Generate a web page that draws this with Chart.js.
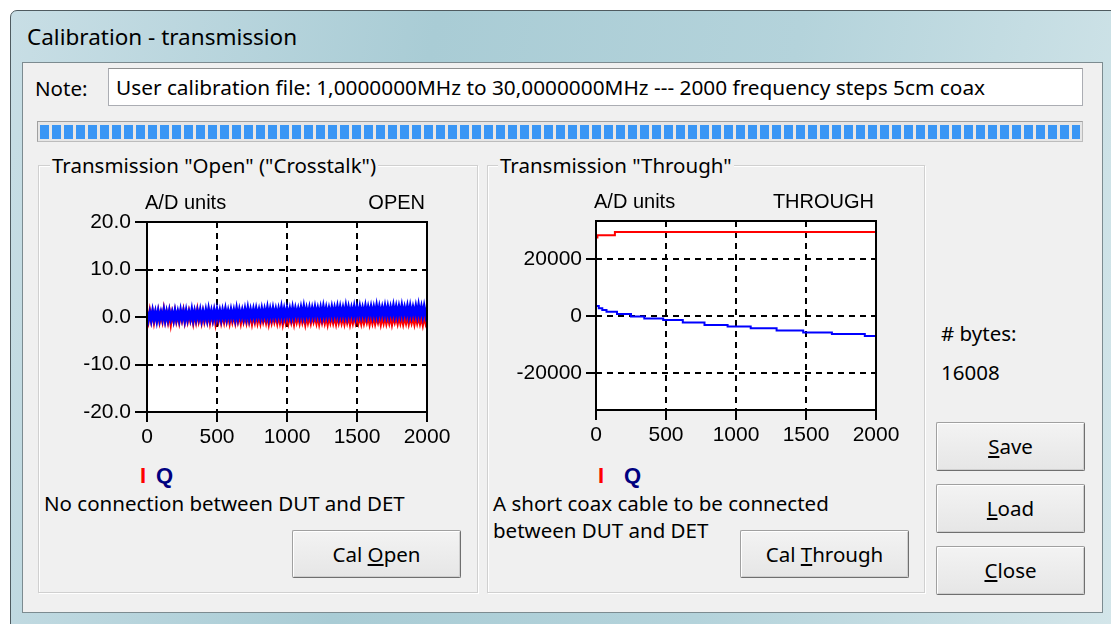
<!DOCTYPE html>
<html>
<head>
<meta charset="utf-8">
<title>Calibration - transmission</title>
<script src="https://cdn.jsdelivr.net/npm/chart.js@4.4.1/dist/chart.umd.min.js"></script>
<style>
  body { margin: 0; width: 1111px; height: 624px; overflow: hidden; background: #fff; position: relative;
         font-family: "Noto Sans", "Open Sans", sans-serif; font-size: 20.5px; color: #000; }
  .abs { position: absolute; box-sizing: border-box; }
  .t { position: absolute; white-space: nowrap; line-height: 24px; }
  #frame { left: 10px; top: 10px; width: 1110px; height: 630px; border: 1px solid #4f5b60; border-radius: 7px 7px 0 0;
           background: linear-gradient(100deg, #c8dee5 0%, #a9ccd5 35%, #b4d3db 65%, #d4e6ea 100%); }
  #client { left: 22px; top: 62px; width: 1081px; height: 551px; background: #f0f0f0; border: 1px solid #7c8b90; }
  #note { left: 108px; top: 68px; width: 975px; height: 38px; background: #fff; border: 1px solid #abadb3;
          border-top-color: #8e8f8f; padding-left: 7px; line-height: 36px; white-space: nowrap; font-size: 20.8px; }
  #prog { left: 37px; top: 121px; width: 1046px; height: 21px; background: #e6e6e6; border: 1px solid #bcbcbc;
          border-top-color: #a0a0a0; border-left-color: #a0a0a0; }
  #prog div { position: absolute; left: 2px; right: 2px; top: 3px; bottom: 2px;
              background: repeating-linear-gradient(to right, #3996f5 0 9px, transparent 9px 12px); }
  .group { border: 1px solid #d0d0d0; box-shadow: inset 1px 1px #fff, 1px 1px #fff; }
  .gtitle { background: #f0f0f0; padding: 0 2px; }
  .btn { border: 1px solid #a0a0a0; border-right-color: #6f6f6f; border-bottom-color: #6f6f6f; border-radius: 2px;
         background: linear-gradient(#f3f3f3, #e6e6e6); box-shadow: inset 1px 1px #fff, inset -1px -1px #cfcfcf;
         text-align: center; white-space: nowrap; }
  .iq { position: absolute; font-family: "Liberation Sans", Arial, sans-serif; font-weight: bold; font-size: 22px; line-height: 24px; }
  canvas { position: absolute; }
</style>
</head>
<body>
<div id="frame" class="abs"></div>
<div class="t" style="left:27px; top:25px; font-size:22.5px;">Calibration - transmission</div>
<div id="client" class="abs"></div>

<div class="t" style="left:35px; top:76px;">Note:</div>
<div id="note" class="abs">User calibration file: 1,0000000MHz to 30,0000000MHz --- 2000 frequency steps 5cm coax</div>
<div id="prog" class="abs"><div></div></div>

<div class="abs group" style="left:38px; top:165px; width:440px; height:428px;"></div>
<div class="t gtitle" style="left:50px; top:153px;">Transmission "Open" ("Crosstalk")</div>
<div class="abs group" style="left:487px; top:165px; width:438px; height:428px;"></div>
<div class="t gtitle" style="left:498px; top:153px;">Transmission "Through"</div>

<canvas id="openChart" width="400" height="275" style="left:60px; top:180px; width:400px; height:275px;"></canvas>
<canvas id="thruChart" width="400" height="275" style="left:510px; top:180px; width:400px; height:275px;"></canvas>

<span class="iq" style="left:140px; top:464px; color:#ff0000;">I</span>
<span class="iq" style="left:156px; top:464px; color:#000080;">Q</span>
<span class="iq" style="left:598px; top:464px; color:#ff0000;">I</span>
<span class="iq" style="left:624px; top:464px; color:#000080;">Q</span>

<div class="t" style="left:44px; top:491px;">No connection between DUT and DET</div>
<div class="t" style="left:493px; top:491px;">A short coax cable to be connected</div>
<div class="t" style="left:493px; top:518px;">between DUT and DET</div>

<div class="abs btn" style="left:292px; top:530px; width:169px; height:48px; line-height:46px;">Cal <u>O</u>pen</div>
<div class="abs btn" style="left:740px; top:530px; width:169px; height:48px; line-height:46px;">Cal <u>T</u>hrough</div>

<div class="t" style="left:941px; top:321px;"># bytes:</div>
<div class="t" style="left:941px; top:360px;">16008</div>

<div class="abs btn" style="left:936px; top:422px; width:149px; height:49px; line-height:47px;"><u>S</u>ave</div>
<div class="abs btn" style="left:936px; top:484px; width:149px; height:49px; line-height:47px;"><u>L</u>oad</div>
<div class="abs btn" style="left:936px; top:546px; width:149px; height:49px; line-height:47px;"><u>C</u>lose</div>

<script>
// "Open" (crosstalk) measurement, one reading every 10 frequency steps
const openStep = 10;
const openI = [
  0.8, -0.7, 1.1, -0.6, 0.9, -0.9, 0.7, -0.5, 1.0, -0.8,
  0.6, -0.7, 1.3, -0.6, 0.8, -0.8, 0.9, -1.2, 0.7, -0.6,
  1.0, -0.7, 0.6, -0.9, 0.8, -0.5, 1.1, -0.8, 0.7, -0.7,
  0.9, -0.6, 0.6, -1.0, 0.8, -0.7, 1.2, -0.6, 0.7, -0.9,
  0.8, -0.8, 0.5, -0.7, 1.0, -0.9, 0.7, -0.6, 0.9, -1.1,
  0.6, -0.7, 0.8, -0.9, 0.5, -0.8, 1.0, -0.7, 0.6, -1.0,
  0.7, -0.8, 0.5, -0.9, 0.9, -0.7, 0.6, -1.0, 0.7, -0.8,
  0.4, -0.9, 0.8, -0.8, 0.6, -1.1, 0.5, -0.8, 0.9, -0.9,
  0.5, -1.0, 0.6, -0.8, 0.4, -0.9, 0.7, -1.1, 0.5, -0.9,
  0.6, -0.8, 0.4, -1.0, 0.7, -0.9, 0.5, -1.2, 0.4, -0.9,
  0.6, -1.0, 0.3, -0.9, 0.5, -1.1, 0.7, -0.8, 0.4, -1.0,
  0.5, -0.9, 0.3, -1.2, 0.6, -0.9, 0.4, -1.0, 0.5, -0.8,
  0.3, -1.0, 0.6, -1.1, 0.4, -0.9, 0.5, -1.0, 0.3, -1.2,
  0.5, -0.9, 0.4, -1.0, 0.3, -1.1, 0.6, -0.9, 0.4, -1.0,
  0.3, -1.1, 0.5, -0.9, 0.4, -1.2, 0.3, -1.0, 0.5, -0.9,
  0.4, -1.0, 0.2, -1.1, 0.5, -1.0, 0.3, -0.9, 0.4, -1.2,
  0.3, -1.0, 0.5, -1.1, 0.2, -0.9, 0.4, -1.2, 0.3, -1.0,
  0.4, -1.1, 0.2, -1.0, 0.5, -1.2, 0.3, -0.9, 0.2, -1.1,
  0.4, -1.0, 0.3, -1.2, 0.2, -1.0, 0.5, -1.1, 0.3, -1.0,
  0.2, -1.2, 0.4, -1.0, 0.3, -1.1, 0.2, -1.3, 0.4, -1.0,
  0.3
];
const openQ = [
  1.1, -0.5, 0.9, -0.6, 1.2, -0.4, 1.0, -0.7, 1.1, -0.5,
  0.9, -0.4, 1.3, -0.6, 1.0, -0.5, 1.2, -0.3, 0.9, -0.6,
  1.2, -0.4, 1.0, -0.5, 1.3, -0.3, 1.1, -0.6, 1.2, -0.4,
  1.0, -0.3, 1.4, -0.5, 1.1, -0.4, 1.2, -0.2, 1.3, -0.5,
  1.1, -0.3, 1.3, -0.4, 1.5, -0.2, 1.2, -0.4, 1.3, -0.3,
  1.4, -0.2, 1.2, -0.4, 1.3, -0.1, 1.5, -0.3, 1.2, -0.2,
  1.4, -0.1, 1.3, -0.3, 1.6, -0.2, 1.4, 0.0, 1.3, -0.2,
  1.5, -0.1, 1.7, -0.2, 1.4, 0.0, 1.5, -0.1, 1.6, 0.1,
  1.4, -0.1, 1.6, 0.0, 1.5, 0.1, 1.8, -0.1, 1.5, 0.0,
  1.7, 0.1, 1.5, 0.0, 1.6, 0.2, 1.9, 0.0, 1.6, 0.1,
  1.7, 0.2, 1.6, 0.0, 1.8, 0.1, 1.7, 0.3, 1.6, 0.1,
  1.8, 0.2, 2.0, 0.1, 1.7, 0.3, 1.8, 0.1, 1.7, 0.2,
  1.9, 0.3, 1.7, 0.2, 1.8, 0.1, 2.0, 0.3, 1.8, 0.2,
  1.7, 0.3, 1.9, 0.2, 1.8, 0.4, 2.0, 0.2, 1.9, 0.3,
  1.8, 0.3, 2.1, 0.2, 1.9, 0.4, 1.8, 0.3, 2.0, 0.2,
  1.9, 0.4, 2.0, 0.3, 1.8, 0.4, 2.1, 0.3, 1.9, 0.5,
  2.0, 0.3, 1.9, 0.4, 2.2, 0.3, 2.0, 0.5, 1.9, 0.4,
  2.1, 0.4, 2.0, 0.3, 1.9, 0.5, 2.2, 0.4, 2.0, 0.3,
  2.0, 0.5, 2.2, 0.4, 1.9, 0.5, 2.1, 0.3, 2.1, 0.4,
  1.9, 0.5, 2.1, 0.4, 2.3, 0.5, 2.0, 0.3, 2.1, 0.5,
  2.0
];
const openYTicks = [-20, -10, 0, 10, 20];

// "Through" measurement, stepwise levels (step index where each level starts)
const thruIx = [0, 10, 135, 2000];
const thruIy = [27600, 28400, 29500, 29500];
const thruQx = [0, 20, 45, 75, 150, 250, 345, 480, 620, 775, 940, 1105, 1290, 1480, 1685, 1920, 2000];
const thruQy = [3500, 2700, 2100, 1500, 700, -200, -900, -1400, -2300, -3150, -3750, -4350, -5150, -5850, -6350, -7050, -7050];
const thruYTicks = [-20000, 0, 20000];

const xTicks = [0, 500, 1000, 1500, 2000];

Chart.defaults.font.family = '"Liberation Sans", Arial, sans-serif';
Chart.defaults.font.size = 21;
Chart.defaults.color = '#000';

// white plot area, black frame and the two header texts
const plotFrame = {
  id: 'plotFrame',
  beforeDraw(chart) {
    const {ctx, chartArea: a} = chart;
    ctx.save();
    ctx.fillStyle = '#fff';
    ctx.fillRect(a.left, a.top, a.width, a.height);
    ctx.restore();
  },
  afterDraw(chart, args, opts) {
    const {ctx, chartArea: a} = chart;
    ctx.save();
    ctx.strokeStyle = '#000';
    ctx.lineWidth = 2;
    ctx.strokeRect(a.left, a.top, a.width, a.height);
    ctx.fillStyle = '#000';
    ctx.font = '20px "Liberation Sans", Arial, sans-serif';
    ctx.textBaseline = 'middle';
    ctx.textAlign = 'left';
    ctx.fillText(opts.left, a.left - 2, a.top - 19);
    ctx.textAlign = 'right';
    ctx.fillText(opts.right, a.right - 2, a.top - 19);
    ctx.restore();
  }
};

function makeChart(id, datasets, yMin, yMax, yTicks, yFmt, box, header) {
  return new Chart(document.getElementById(id), {
    type: 'line',
    data: { datasets: datasets },
    options: {
      responsive: false,
      animation: false,
      parsing: false,
      layout: { padding: { top: box.top, right: box.right, left: 0, bottom: 0 } },
      elements: { point: { radius: 0 }, line: { borderWidth: 2, tension: 0 } },
      plugins: { legend: { display: false }, tooltip: { enabled: false }, plotFrame: header },
      scales: {
        x: {
          type: 'linear', min: 0, max: 2000,
          afterBuildTicks: s => { s.ticks = xTicks.map(v => ({ value: v })); },
          afterFit: s => { s.height = box.xh; },
          ticks: { padding: 3, maxRotation: 0, callback: v => String(v) },
          grid: { color: '#000', lineWidth: 2, tickLength: 10, tickColor: '#000', tickWidth: 2 },
          border: { display: false, dash: [6, 5] }
        },
        y: {
          type: 'linear', min: yMin, max: yMax,
          afterBuildTicks: s => { s.ticks = yTicks.map(v => ({ value: v })); },
          afterFit: s => { s.width = box.yw; },
          ticks: { padding: 4, callback: yFmt },
          grid: { color: '#000', lineWidth: 2, tickLength: box.tl, tickColor: '#000', tickWidth: 2 },
          border: { display: false, dash: [6, 5] }
        }
      }
    },
    plugins: [plotFrame]
  });
}

const pts = (xs, ys) => ys.map((y, i) => ({ x: xs[i], y: y }));
const openX = openI.map((v, i) => i * openStep);

makeChart('openChart', [
  { label: 'I', data: pts(openX, openI), borderColor: '#ff0000', borderWidth: 3, order: 2 },
  { label: 'Q', data: pts(openX, openQ), borderColor: '#0000ff', borderWidth: 3, order: 1 }
], -20, 20, openYTicks, v => v.toFixed(1),
  { top: 42, right: 33, yw: 87, xh: 43, tl: 12 },
  { left: 'A/D units', right: 'OPEN' });

makeChart('thruChart', [
  { label: 'I', data: pts(thruIx, thruIy), borderColor: '#ff0000', stepped: true, order: 2 },
  { label: 'Q', data: pts(thruQx, thruQy), borderColor: '#0000ff', stepped: true, order: 1 }
], -33100, 33400, thruYTicks, v => String(v),
  { top: 41, right: 34, yw: 86, xh: 45, tl: 10 },
  { left: 'A/D units', right: 'THROUGH' });
</script>
</body>
</html>
